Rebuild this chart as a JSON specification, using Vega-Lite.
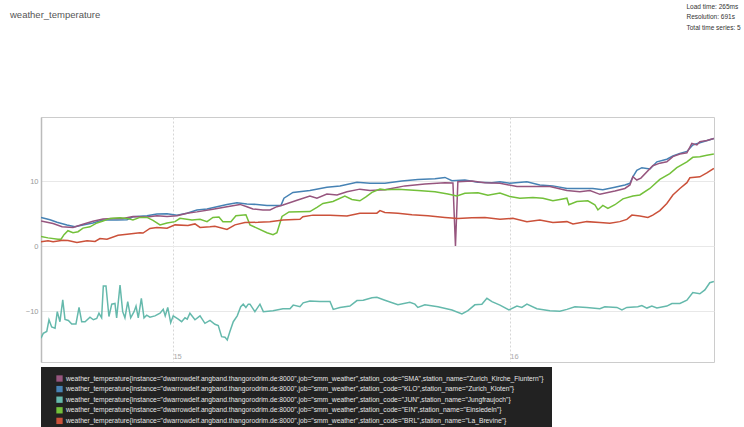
{
  "$schema": "https://vega.github.io/schema/vega-lite/v6.json",
  "width": 673,
  "height": 245,
  "autosize": {"type": "none"},
  "padding": {"left": 41, "top": 117, "right": 30, "bottom": 65},
  "background": "white",
  "config": {
    "font": "Liberation Sans",
    "view": {"stroke": "#cccccc", "strokeWidth": 1}
  },
  "title": {
    "text": "weather_temperature",
    "anchor": "start",
    "frame": "group",
    "dx": -31,
    "offset": 0,
    "dy": 16,
    "fontSize": 9.5,
    "fontWeight": "normal",
    "color": "#555555"
  },
  "data": {
    "values": [
      {"s":"KLO","h":14.60,"v":4.45},{"s":"KLO","h":15.24,"v":4.1},{"s":"KLO","h":15.74,"v":3.7},{"s":"KLO","h":16.45,"v":3.28},{"s":"KLO","h":17.02,"v":3.0},{"s":"KLO","h":17.59,"v":3.28},{"s":"KLO","h":18.30,"v":3.6},{"s":"KLO","h":19.02,"v":4.05},{"s":"KLO","h":20.01,"v":4.05},{"s":"KLO","h":20.73,"v":4.1},{"s":"KLO","h":21.15,"v":4.55},{"s":"KLO","h":22.15,"v":4.7},{"s":"KLO","h":22.86,"v":4.97},{"s":"KLO","h":23.58,"v":5.0},{"s":"KLO","h":24.29,"v":4.8},{"s":"KLO","h":25.00,"v":5.1},{"s":"KLO","h":25.71,"v":5.6},{"s":"KLO","h":26.43,"v":5.75},{"s":"KLO","h":27.14,"v":6.1},{"s":"KLO","h":27.85,"v":6.45},{"s":"KLO","h":28.56,"v":6.7},{"s":"KLO","h":29.27,"v":6.5},{"s":"KLO","h":29.99,"v":6.45},{"s":"KLO","h":30.70,"v":6.3},{"s":"KLO","h":31.41,"v":6.3},{"s":"KLO","h":31.70,"v":6.3},{"s":"KLO","h":31.91,"v":7.4},{"s":"KLO","h":32.55,"v":8.3},{"s":"KLO","h":33.76,"v":8.6},{"s":"KLO","h":34.97,"v":9.1},{"s":"KLO","h":35.90,"v":9.3},{"s":"KLO","h":37.11,"v":9.85},{"s":"KLO","h":38.04,"v":9.7},{"s":"KLO","h":39.10,"v":9.7},{"s":"KLO","h":40.31,"v":10.05},{"s":"KLO","h":41.45,"v":10.3},{"s":"KLO","h":42.67,"v":10.4},{"s":"KLO","h":43.38,"v":10.6},{"s":"KLO","h":43.88,"v":10.1},{"s":"KLO","h":44.80,"v":10.2},{"s":"KLO","h":45.73,"v":9.85},{"s":"KLO","h":46.73,"v":9.8},{"s":"KLO","h":47.30,"v":9.95},{"s":"KLO","h":48.01,"v":9.7},{"s":"KLO","h":49.22,"v":9.95},{"s":"KLO","h":50.14,"v":9.45},{"s":"KLO","h":51.07,"v":9.3},{"s":"KLO","h":52.07,"v":8.9},{"s":"KLO","h":52.99,"v":8.9},{"s":"KLO","h":53.92,"v":8.9},{"s":"KLO","h":54.63,"v":8.7},{"s":"KLO","h":55.49,"v":9.1},{"s":"KLO","h":56.20,"v":9.45},{"s":"KLO","h":56.56,"v":9.7},{"s":"KLO","h":56.77,"v":10.7},{"s":"KLO","h":57.05,"v":11.7},{"s":"KLO","h":57.41,"v":12.1},{"s":"KLO","h":57.98,"v":11.9},{"s":"KLO","h":58.48,"v":13.0},{"s":"KLO","h":59.19,"v":13.4},{"s":"KLO","h":59.62,"v":13.9},{"s":"KLO","h":60.12,"v":14.3},{"s":"KLO","h":60.62,"v":14.6},{"s":"KLO","h":61.04,"v":15.6},{"s":"KLO","h":61.54,"v":15.95},{"s":"KLO","h":62.25,"v":16.4},{"s":"KLO","h":62.54,"v":16.6},
      {"s":"SMA","h":14.60,"v":3.9},{"s":"SMA","h":15.46,"v":3.5},{"s":"SMA","h":16.10,"v":3.0},{"s":"SMA","h":16.88,"v":2.9},{"s":"SMA","h":17.59,"v":3.4},{"s":"SMA","h":18.30,"v":3.85},{"s":"SMA","h":19.02,"v":4.2},{"s":"SMA","h":19.73,"v":4.3},{"s":"SMA","h":20.44,"v":4.3},{"s":"SMA","h":21.15,"v":4.6},{"s":"SMA","h":22.15,"v":4.5},{"s":"SMA","h":22.86,"v":4.7},{"s":"SMA","h":23.58,"v":4.6},{"s":"SMA","h":24.29,"v":4.7},{"s":"SMA","h":25.00,"v":5.1},{"s":"SMA","h":25.71,"v":5.3},{"s":"SMA","h":26.85,"v":5.7},{"s":"SMA","h":27.85,"v":6.1},{"s":"SMA","h":28.78,"v":6.45},{"s":"SMA","h":29.27,"v":6.1},{"s":"SMA","h":29.70,"v":5.75},{"s":"SMA","h":30.41,"v":5.6},{"s":"SMA","h":30.91,"v":5.6},{"s":"SMA","h":31.41,"v":6.1},{"s":"SMA","h":31.84,"v":6.35},{"s":"SMA","h":32.84,"v":7.1},{"s":"SMA","h":33.76,"v":7.75},{"s":"SMA","h":34.26,"v":7.4},{"s":"SMA","h":34.97,"v":8.05},{"s":"SMA","h":35.69,"v":7.9},{"s":"SMA","h":36.40,"v":8.4},{"s":"SMA","h":37.32,"v":8.8},{"s":"SMA","h":38.04,"v":8.6},{"s":"SMA","h":39.10,"v":8.7},{"s":"SMA","h":40.53,"v":9.3},{"s":"SMA","h":41.95,"v":9.6},{"s":"SMA","h":43.38,"v":9.8},{"s":"SMA","h":43.95,"v":9.75},{"s":"SMA","h":44.13,"v":0.05},{"s":"SMA","h":44.30,"v":9.95},{"s":"SMA","h":45.30,"v":10.05},{"s":"SMA","h":46.23,"v":9.8},{"s":"SMA","h":47.30,"v":9.7},{"s":"SMA","h":48.51,"v":9.2},{"s":"SMA","h":49.65,"v":9.2},{"s":"SMA","h":50.86,"v":9.2},{"s":"SMA","h":52.07,"v":8.6},{"s":"SMA","h":52.99,"v":8.4},{"s":"SMA","h":53.71,"v":8.6},{"s":"SMA","h":54.42,"v":8.0},{"s":"SMA","h":55.49,"v":8.5},{"s":"SMA","h":56.20,"v":8.9},{"s":"SMA","h":56.56,"v":9.45},{"s":"SMA","h":56.77,"v":10.7},{"s":"SMA","h":57.05,"v":10.2},{"s":"SMA","h":57.34,"v":10.5},{"s":"SMA","h":58.19,"v":12.4},{"s":"SMA","h":58.69,"v":12.8},{"s":"SMA","h":59.19,"v":13.0},{"s":"SMA","h":59.62,"v":13.8},{"s":"SMA","h":60.12,"v":14.2},{"s":"SMA","h":60.62,"v":14.4},{"s":"SMA","h":60.97,"v":15.85},{"s":"SMA","h":61.33,"v":15.6},{"s":"SMA","h":61.54,"v":16.1},{"s":"SMA","h":62.04,"v":16.3},{"s":"SMA","h":62.54,"v":16.6},
      {"s":"EIN","h":14.60,"v":1.5},{"s":"EIN","h":15.10,"v":1.3},{"s":"EIN","h":15.81,"v":1.1},{"s":"EIN","h":16.03,"v":1.1},{"s":"EIN","h":16.24,"v":1.8},{"s":"EIN","h":16.52,"v":2.4},{"s":"EIN","h":16.88,"v":2.1},{"s":"EIN","h":17.24,"v":2.25},{"s":"EIN","h":17.59,"v":2.8},{"s":"EIN","h":18.09,"v":3.0},{"s":"EIN","h":18.59,"v":3.6},{"s":"EIN","h":19.02,"v":3.9},{"s":"EIN","h":19.52,"v":4.3},{"s":"EIN","h":20.23,"v":4.4},{"s":"EIN","h":20.73,"v":4.3},{"s":"EIN","h":21.15,"v":4.05},{"s":"EIN","h":21.65,"v":4.45},{"s":"EIN","h":22.15,"v":4.45},{"s":"EIN","h":22.58,"v":4.0},{"s":"EIN","h":23.08,"v":3.3},{"s":"EIN","h":23.58,"v":3.6},{"s":"EIN","h":24.15,"v":3.8},{"s":"EIN","h":24.50,"v":4.3},{"s":"EIN","h":25.36,"v":4.05},{"s":"EIN","h":25.93,"v":4.15},{"s":"EIN","h":26.43,"v":3.8},{"s":"EIN","h":26.85,"v":4.45},{"s":"EIN","h":27.28,"v":4.5},{"s":"EIN","h":27.56,"v":3.8},{"s":"EIN","h":28.13,"v":3.8},{"s":"EIN","h":28.49,"v":4.7},{"s":"EIN","h":29.20,"v":4.85},{"s":"EIN","h":29.49,"v":3.3},{"s":"EIN","h":29.99,"v":2.8},{"s":"EIN","h":30.70,"v":2.1},{"s":"EIN","h":31.13,"v":1.8},{"s":"EIN","h":31.41,"v":2.1},{"s":"EIN","h":31.77,"v":4.6},{"s":"EIN","h":32.27,"v":5.3},{"s":"EIN","h":33.76,"v":5.35},{"s":"EIN","h":34.26,"v":6.0},{"s":"EIN","h":34.69,"v":6.6},{"s":"EIN","h":35.40,"v":6.9},{"s":"EIN","h":36.25,"v":7.75},{"s":"EIN","h":36.75,"v":7.2},{"s":"EIN","h":37.32,"v":7.0},{"s":"EIN","h":37.75,"v":7.6},{"s":"EIN","h":38.18,"v":8.3},{"s":"EIN","h":38.75,"v":8.8},{"s":"EIN","h":39.10,"v":8.7},{"s":"EIN","h":40.03,"v":8.8},{"s":"EIN","h":41.45,"v":8.6},{"s":"EIN","h":42.67,"v":8.4},{"s":"EIN","h":43.59,"v":8.05},{"s":"EIN","h":44.23,"v":7.75},{"s":"EIN","h":44.80,"v":8.15},{"s":"EIN","h":45.73,"v":8.25},{"s":"EIN","h":46.44,"v":7.85},{"s":"EIN","h":47.30,"v":8.2},{"s":"EIN","h":48.01,"v":7.65},{"s":"EIN","h":48.72,"v":7.4},{"s":"EIN","h":49.65,"v":7.5},{"s":"EIN","h":50.36,"v":7.4},{"s":"EIN","h":51.07,"v":7.0},{"s":"EIN","h":51.57,"v":7.2},{"s":"EIN","h":52.07,"v":7.4},{"s":"EIN","h":52.21,"v":6.4},{"s":"EIN","h":52.78,"v":6.9},{"s":"EIN","h":53.56,"v":7.0},{"s":"EIN","h":54.06,"v":6.4},{"s":"EIN","h":54.28,"v":5.6},{"s":"EIN","h":54.63,"v":6.3},{"s":"EIN","h":54.99,"v":5.85},{"s":"EIN","h":55.49,"v":6.4},{"s":"EIN","h":56.06,"v":7.3},{"s":"EIN","h":56.77,"v":7.75},{"s":"EIN","h":57.27,"v":7.9},{"s":"EIN","h":57.98,"v":8.9},{"s":"EIN","h":58.69,"v":10.3},{"s":"EIN","h":59.40,"v":11.2},{"s":"EIN","h":59.90,"v":12.1},{"s":"EIN","h":60.62,"v":13.0},{"s":"EIN","h":61.04,"v":13.7},{"s":"EIN","h":61.54,"v":13.8},{"s":"EIN","h":62.04,"v":14.0},{"s":"EIN","h":62.54,"v":14.2},
      {"s":"BRL","h":14.60,"v":0.7},{"s":"BRL","h":15.10,"v":0.85},{"s":"BRL","h":15.46,"v":0.7},{"s":"BRL","h":16.17,"v":0.95},{"s":"BRL","h":16.52,"v":0.9},{"s":"BRL","h":17.16,"v":0.6},{"s":"BRL","h":17.88,"v":0.85},{"s":"BRL","h":18.45,"v":0.75},{"s":"BRL","h":18.80,"v":1.2},{"s":"BRL","h":19.30,"v":1.1},{"s":"BRL","h":20.09,"v":1.7},{"s":"BRL","h":20.73,"v":1.85},{"s":"BRL","h":21.65,"v":2.1},{"s":"BRL","h":21.87,"v":2.05},{"s":"BRL","h":22.36,"v":2.75},{"s":"BRL","h":22.86,"v":2.9},{"s":"BRL","h":23.58,"v":2.8},{"s":"BRL","h":24.15,"v":3.3},{"s":"BRL","h":25.07,"v":3.2},{"s":"BRL","h":25.57,"v":3.45},{"s":"BRL","h":25.93,"v":2.9},{"s":"BRL","h":26.64,"v":3.0},{"s":"BRL","h":26.99,"v":3.1},{"s":"BRL","h":27.85,"v":2.6},{"s":"BRL","h":28.42,"v":3.3},{"s":"BRL","h":29.13,"v":3.65},{"s":"BRL","h":30.06,"v":3.7},{"s":"BRL","h":30.91,"v":3.8},{"s":"BRL","h":31.84,"v":4.05},{"s":"BRL","h":33.05,"v":4.15},{"s":"BRL","h":33.26,"v":4.55},{"s":"BRL","h":33.98,"v":4.8},{"s":"BRL","h":35.19,"v":4.8},{"s":"BRL","h":36.40,"v":4.65},{"s":"BRL","h":37.32,"v":5.1},{"s":"BRL","h":38.53,"v":5.1},{"s":"BRL","h":38.75,"v":5.5},{"s":"BRL","h":39.10,"v":5.2},{"s":"BRL","h":40.03,"v":5.1},{"s":"BRL","h":41.03,"v":4.85},{"s":"BRL","h":42.17,"v":4.7},{"s":"BRL","h":43.38,"v":4.45},{"s":"BRL","h":44.30,"v":4.3},{"s":"BRL","h":45.30,"v":4.4},{"s":"BRL","h":46.23,"v":4.45},{"s":"BRL","h":47.30,"v":4.15},{"s":"BRL","h":48.22,"v":4.3},{"s":"BRL","h":49.22,"v":3.8},{"s":"BRL","h":50.14,"v":4.05},{"s":"BRL","h":51.07,"v":3.65},{"s":"BRL","h":52.07,"v":3.8},{"s":"BRL","h":52.50,"v":3.45},{"s":"BRL","h":53.49,"v":3.8},{"s":"BRL","h":54.42,"v":3.65},{"s":"BRL","h":55.13,"v":3.55},{"s":"BRL","h":55.84,"v":3.8},{"s":"BRL","h":56.34,"v":4.15},{"s":"BRL","h":56.70,"v":4.8},{"s":"BRL","h":57.27,"v":4.65},{"s":"BRL","h":57.84,"v":4.45},{"s":"BRL","h":58.19,"v":4.8},{"s":"BRL","h":58.69,"v":5.5},{"s":"BRL","h":59.19,"v":6.6},{"s":"BRL","h":59.62,"v":7.9},{"s":"BRL","h":60.12,"v":8.9},{"s":"BRL","h":60.62,"v":9.8},{"s":"BRL","h":60.83,"v":10.55},{"s":"BRL","h":61.54,"v":10.7},{"s":"BRL","h":62.04,"v":11.3},{"s":"BRL","h":62.54,"v":12.0},
      {"s":"JUN","h":14.60,"v":-14.15},{"s":"JUN","h":14.76,"v":-13.4},{"s":"JUN","h":15.01,"v":-13.1},{"s":"JUN","h":15.17,"v":-11.3},{"s":"JUN","h":15.36,"v":-12.4},{"s":"JUN","h":15.60,"v":-12.6},{"s":"JUN","h":15.76,"v":-10.05},{"s":"JUN","h":15.95,"v":-11.6},{"s":"JUN","h":16.15,"v":-8.25},{"s":"JUN","h":16.31,"v":-11.25},{"s":"JUN","h":16.55,"v":-11.4},{"s":"JUN","h":16.79,"v":-11.95},{"s":"JUN","h":17.09,"v":-11.95},{"s":"JUN","h":17.31,"v":-9.4},{"s":"JUN","h":17.50,"v":-11.6},{"s":"JUN","h":17.74,"v":-11.6},{"s":"JUN","h":18.09,"v":-10.9},{"s":"JUN","h":18.33,"v":-11.3},{"s":"JUN","h":18.57,"v":-11.1},{"s":"JUN","h":18.73,"v":-10.3},{"s":"JUN","h":18.92,"v":-11.0},{"s":"JUN","h":19.04,"v":-6.1},{"s":"JUN","h":19.23,"v":-6.1},{"s":"JUN","h":19.44,"v":-10.8},{"s":"JUN","h":19.64,"v":-8.9},{"s":"JUN","h":19.87,"v":-8.8},{"s":"JUN","h":19.99,"v":-11.0},{"s":"JUN","h":20.23,"v":-5.95},{"s":"JUN","h":20.42,"v":-10.05},{"s":"JUN","h":20.58,"v":-11.0},{"s":"JUN","h":20.78,"v":-8.5},{"s":"JUN","h":20.99,"v":-11.0},{"s":"JUN","h":21.23,"v":-10.05},{"s":"JUN","h":21.37,"v":-9.2},{"s":"JUN","h":21.53,"v":-11.0},{"s":"JUN","h":21.75,"v":-8.0},{"s":"JUN","h":21.94,"v":-11.0},{"s":"JUN","h":22.13,"v":-10.6},{"s":"JUN","h":22.36,"v":-10.9},{"s":"JUN","h":22.72,"v":-10.7},{"s":"JUN","h":23.08,"v":-10.3},{"s":"JUN","h":23.31,"v":-9.7},{"s":"JUN","h":23.45,"v":-10.7},{"s":"JUN","h":23.63,"v":-9.4},{"s":"JUN","h":23.84,"v":-11.75},{"s":"JUN","h":24.02,"v":-10.7},{"s":"JUN","h":24.38,"v":-11.2},{"s":"JUN","h":24.62,"v":-11.6},{"s":"JUN","h":24.86,"v":-11.0},{"s":"JUN","h":25.02,"v":-11.2},{"s":"JUN","h":25.21,"v":-10.3},{"s":"JUN","h":25.57,"v":-11.3},{"s":"JUN","h":25.93,"v":-10.7},{"s":"JUN","h":26.28,"v":-11.85},{"s":"JUN","h":26.64,"v":-11.4},{"s":"JUN","h":26.99,"v":-12.0},{"s":"JUN","h":27.23,"v":-12.2},{"s":"JUN","h":27.47,"v":-13.9},{"s":"JUN","h":27.71,"v":-14.0},{"s":"JUN","h":27.87,"v":-14.4},{"s":"JUN","h":28.06,"v":-13.1},{"s":"JUN","h":28.30,"v":-11.6},{"s":"JUN","h":28.58,"v":-10.7},{"s":"JUN","h":28.83,"v":-9.3},{"s":"JUN","h":29.01,"v":-8.9},{"s":"JUN","h":29.20,"v":-9.4},{"s":"JUN","h":29.37,"v":-8.9},{"s":"JUN","h":29.49,"v":-8.9},{"s":"JUN","h":29.84,"v":-10.05},{"s":"JUN","h":30.20,"v":-8.9},{"s":"JUN","h":30.44,"v":-10.05},{"s":"JUN","h":31.13,"v":-9.9},{"s":"JUN","h":31.84,"v":-9.6},{"s":"JUN","h":32.34,"v":-9.6},{"s":"JUN","h":32.57,"v":-9.05},{"s":"JUN","h":33.05,"v":-9.3},{"s":"JUN","h":33.28,"v":-8.7},{"s":"JUN","h":33.76,"v":-8.4},{"s":"JUN","h":34.47,"v":-8.5},{"s":"JUN","h":35.19,"v":-8.5},{"s":"JUN","h":35.42,"v":-9.7},{"s":"JUN","h":35.90,"v":-9.4},{"s":"JUN","h":36.61,"v":-9.2},{"s":"JUN","h":37.11,"v":-8.35},{"s":"JUN","h":37.56,"v":-8.3},{"s":"JUN","h":38.18,"v":-7.9},{"s":"JUN","h":38.53,"v":-7.85},{"s":"JUN","h":39.10,"v":-8.3},{"s":"JUN","h":40.03,"v":-9.0},{"s":"JUN","h":40.88,"v":-8.6},{"s":"JUN","h":41.24,"v":-8.9},{"s":"JUN","h":41.45,"v":-9.4},{"s":"JUN","h":41.95,"v":-9.0},{"s":"JUN","h":42.88,"v":-9.3},{"s":"JUN","h":43.88,"v":-9.8},{"s":"JUN","h":44.59,"v":-10.4},{"s":"JUN","h":45.02,"v":-9.9},{"s":"JUN","h":45.51,"v":-9.0},{"s":"JUN","h":46.01,"v":-8.9},{"s":"JUN","h":46.37,"v":-8.0},{"s":"JUN","h":46.73,"v":-8.5},{"s":"JUN","h":47.30,"v":-9.05},{"s":"JUN","h":47.94,"v":-9.8},{"s":"JUN","h":48.51,"v":-9.2},{"s":"JUN","h":48.86,"v":-9.4},{"s":"JUN","h":49.22,"v":-8.9},{"s":"JUN","h":49.93,"v":-9.6},{"s":"JUN","h":50.86,"v":-9.9},{"s":"JUN","h":51.57,"v":-10.0},{"s":"JUN","h":52.07,"v":-9.7},{"s":"JUN","h":52.64,"v":-9.3},{"s":"JUN","h":53.49,"v":-9.4},{"s":"JUN","h":54.42,"v":-9.6},{"s":"JUN","h":54.77,"v":-9.3},{"s":"JUN","h":55.63,"v":-9.4},{"s":"JUN","h":55.99,"v":-9.8},{"s":"JUN","h":56.34,"v":-9.4},{"s":"JUN","h":57.12,"v":-9.3},{"s":"JUN","h":57.41,"v":-9.1},{"s":"JUN","h":57.77,"v":-9.5},{"s":"JUN","h":58.12,"v":-9.2},{"s":"JUN","h":58.48,"v":-9.5},{"s":"JUN","h":59.19,"v":-9.2},{"s":"JUN","h":59.55,"v":-8.8},{"s":"JUN","h":60.12,"v":-8.8},{"s":"JUN","h":60.62,"v":-8.3},{"s":"JUN","h":61.04,"v":-7.1},{"s":"JUN","h":61.54,"v":-7.3},{"s":"JUN","h":61.90,"v":-6.7},{"s":"JUN","h":62.25,"v":-5.6},{"s":"JUN","h":62.54,"v":-5.4}
    ]
  },
  "mark": {"type": "line", "strokeWidth": 1.5, "clip": true},
  "encoding": {
    "x": {
      "field": "h",
      "type": "quantitative",
      "scale": {"domain": [14.6, 62.55], "nice": false, "zero": false},
      "axis": {
        "values": [24, 48],
        "labelExpr": "datum.value == 24 ? '15' : '16'",
        "title": null,
        "domain": false,
        "ticks": false,
        "grid": true,
        "gridColor": "#d6d6d6",
        "gridDash": [2, 2],
        "labelAlign": "left",
        "labelBaseline": "bottom",
        "labelPadding": -2,
        "labelDx": 2,
        "labelColor": "#aaaaaa",
        "labelFontSize": 7.5
      }
    },
    "y": {
      "field": "v",
      "type": "quantitative",
      "scale": {"domain": [-17.8, 19.9], "nice": false, "zero": false},
      "axis": {
        "values": [-10, 0, 10],
        "ticks": false,
        "domainColor": "#bbbbbb",
        "domainWidth": 1.5,
        "gridColor": "#e8e8e8",
        "labelColor": "#999999",
        "labelFontSize": 7.5,
        "labelPadding": 3,
        "title": ["Load time: 265ms", "Resolution: 691s", "Total time series: 5"],
        "titleAngle": 0,
        "titleAlign": "left",
        "titleBaseline": "top",
        "titleX": 645,
        "titleY": -114,
        "titleFontSize": 6.5,
        "titleFontWeight": "normal",
        "titleColor": "#333333",
        "titleLineHeight": 10.5
      }
    },
    "color": {
      "field": "s",
      "type": "nominal",
      "scale": {
        "domain": ["SMA", "KLO", "JUN", "EIN", "BRL"],
        "range": ["#96557e", "#4682b4", "#65b9ac", "#73c03a", "#cb513a"]
      },
      "legend": {
        "orient": "none",
        "legendX": 0,
        "legendY": 250,
        "fillColor": "#222222",
        "padding": 8,
        "title": null,
        "symbolType": "square",
        "symbolSize": 40,
        "symbolStrokeWidth": 0,
        "symbolOffset": 7,
        "labelOffset": 3,
        "labelColor": "#e6e6e6",
        "labelFontSize": 6.7,
        "labelLimit": 0,
        "rowPadding": 2.6,
        "labelExpr": "'weather_temperature{instance=\"dwarrowdelf.angband.thangorodrim.de:8000\",job=\"smm_weather\",station_code=\"' + datum.label + '\",station_name=\"' + (datum.label == 'SMA' ? 'Zurich_Kirche_Fluntern' : datum.label == 'KLO' ? 'Zurich_Kloten' : datum.label == 'JUN' ? 'Jungfraujoch' : datum.label == 'EIN' ? 'Einsiedeln' : 'La_Brevine') + '\"}'",
        "encode": {
          "symbols": {"update": {"fill": {"scale": "color", "field": "value"}, "stroke": {"value": "transparent"}}}
        }
      }
    }
  }
}
